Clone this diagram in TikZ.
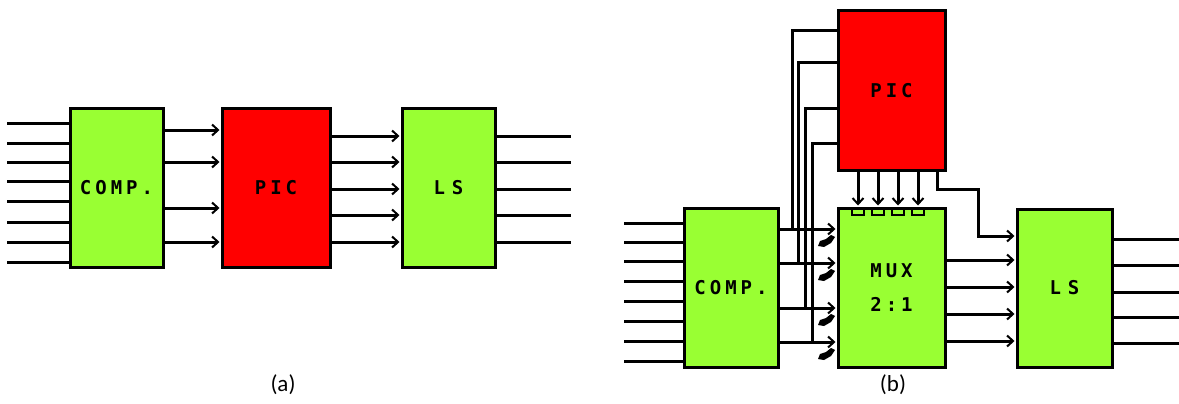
\documentclass[tikz,border=0pt]{standalone}
\usepackage{fontspec}
\setmainfont{Carlito}
\newfontfamily\blockfont{DejaVu Sans Mono}
\usetikzlibrary{arrows.meta}
\definecolor{lime}{RGB}{153,255,51}
\definecolor{pred}{RGB}{255,0,0}
\newcommand\lsp{\kern4pt}
\begin{document}
\begin{tikzpicture}[x=1pt,y=-1pt,
  blk/.style={draw=black, line width=3pt, inner sep=0pt, align=center,
    font=\blockfont\bfseries\fontsize{19}{22}\selectfont},
  gblk/.style={blk, fill=lime},
  rblk/.style={blk, fill=pred},
  wire/.style={line width=3pt},
  arr/.style={wire, shorten >=1pt, -{Straight Barb[length=6pt,width=11pt,line width=2pt]}},
  pin/.style={draw=black, fill=lime, line width=2pt},
  blob/.style={fill=black},
  captext/.style={font=\fontsize{23}{26}\selectfont}
  ]
\useasboundingbox (0,0) rectangle (1179,404);

% ---------- (a) ----------
\node[gblk, minimum width=93pt, minimum height=158pt] (compA) at (116.5,188) {C\lsp O\lsp M\lsp P\lsp .};
\node[rblk, minimum width=108pt, minimum height=158pt] (picA) at (276,188) {P\lsp I\lsp C};
\node[gblk, minimum width=93pt, minimum height=158pt] (lsA) at (448.5,188) {L\kern7pt S};

\foreach \y in {123,143,162,181,201,222,242,262}
  \draw[wire] (compA.west |- 0,\y) -- ++(-62,0);
\foreach \y in {130,162,208,242}
  \draw[arr] (compA.east |- 0,\y) -- (picA.west |- 0,\y);
\foreach \y in {136,162,189,215,242}
  \draw[arr] (picA.east |- 0,\y) -- (lsA.west |- 0,\y);
\foreach \y in {136,162,189,215,242}
  \draw[wire] (lsA.east |- 0,\y) -- ++(74,0);

\node[captext] (capa) at (283,385) {(a)};

% ---------- (b) ----------
\node[rblk, minimum width=107pt, minimum height=159pt] (picB) at (891.5,90.5) {P\lsp I\lsp C};
\node[gblk, minimum width=94pt, minimum height=159pt] (compB) at (731,287.5) {C\lsp O\lsp M\lsp P\lsp .};
\node[gblk, minimum width=107pt, minimum height=159pt] (muxB) at (891.5,287.5) {M\lsp U\lsp X\\[12pt]2\lsp :\lsp 1};
\node[gblk, minimum width=95pt, minimum height=158pt] (lsB) at (1064.5,288) {L\kern7pt S};

\foreach \y in {223,242,261,281,301,321,341,361}
  \draw[wire] (compB.west |- 0,\y) -- ++(-59,0);
\foreach \y in {229,263,308,342}
  \draw[arr] (compB.east |- 0,\y) -- (muxB.west |- 0,\y);

\coordinate (j1) at (792,229);
\coordinate (j2) at (798,263);
\coordinate (j3) at (805,308);
\coordinate (j4) at (812,342);
\draw[wire] (picB.west |- 0,31) -| (j1);
\draw[wire] (picB.west |- 0,63) -| (j2);
\draw[wire] (picB.west |- 0,109) -| (j3);
\draw[wire] (picB.west |- 0,143) -| (j4);

\foreach \y in {229,263,308,342}
  \fill[blob] (818,\y+17) -- (820,\y+12) -- (826,\y+10) -- (831,\y+6) -- (835,\y+8)
     -- (831,\y+14) -- (824,\y+18) -- cycle;

\foreach \x in {858,878,898,918}
  \draw[arr] (picB.south -| \x,0) -- (muxB.north -| \x,0);
\foreach \x in {858,878,898,918}
  \draw[pin] (\x-6,209) rectangle (\x+6,215);

\coordinate (bend) at (978,236);
\draw[arr] (picB.south -| 937,0) -- ++(0,18) -| (bend) -- (lsB.west |- bend);

\foreach \y in {260,287,314,341}
  \draw[arr] (muxB.east |- 0,\y) -- (lsB.west |- 0,\y);
\foreach \y in {239,265,292,317,343}
  \draw[wire] (lsB.east |- 0,\y) -- ++(67,0);

\node[captext] (capb) at (893,385) {(b)};
\end{tikzpicture}
\end{document}
